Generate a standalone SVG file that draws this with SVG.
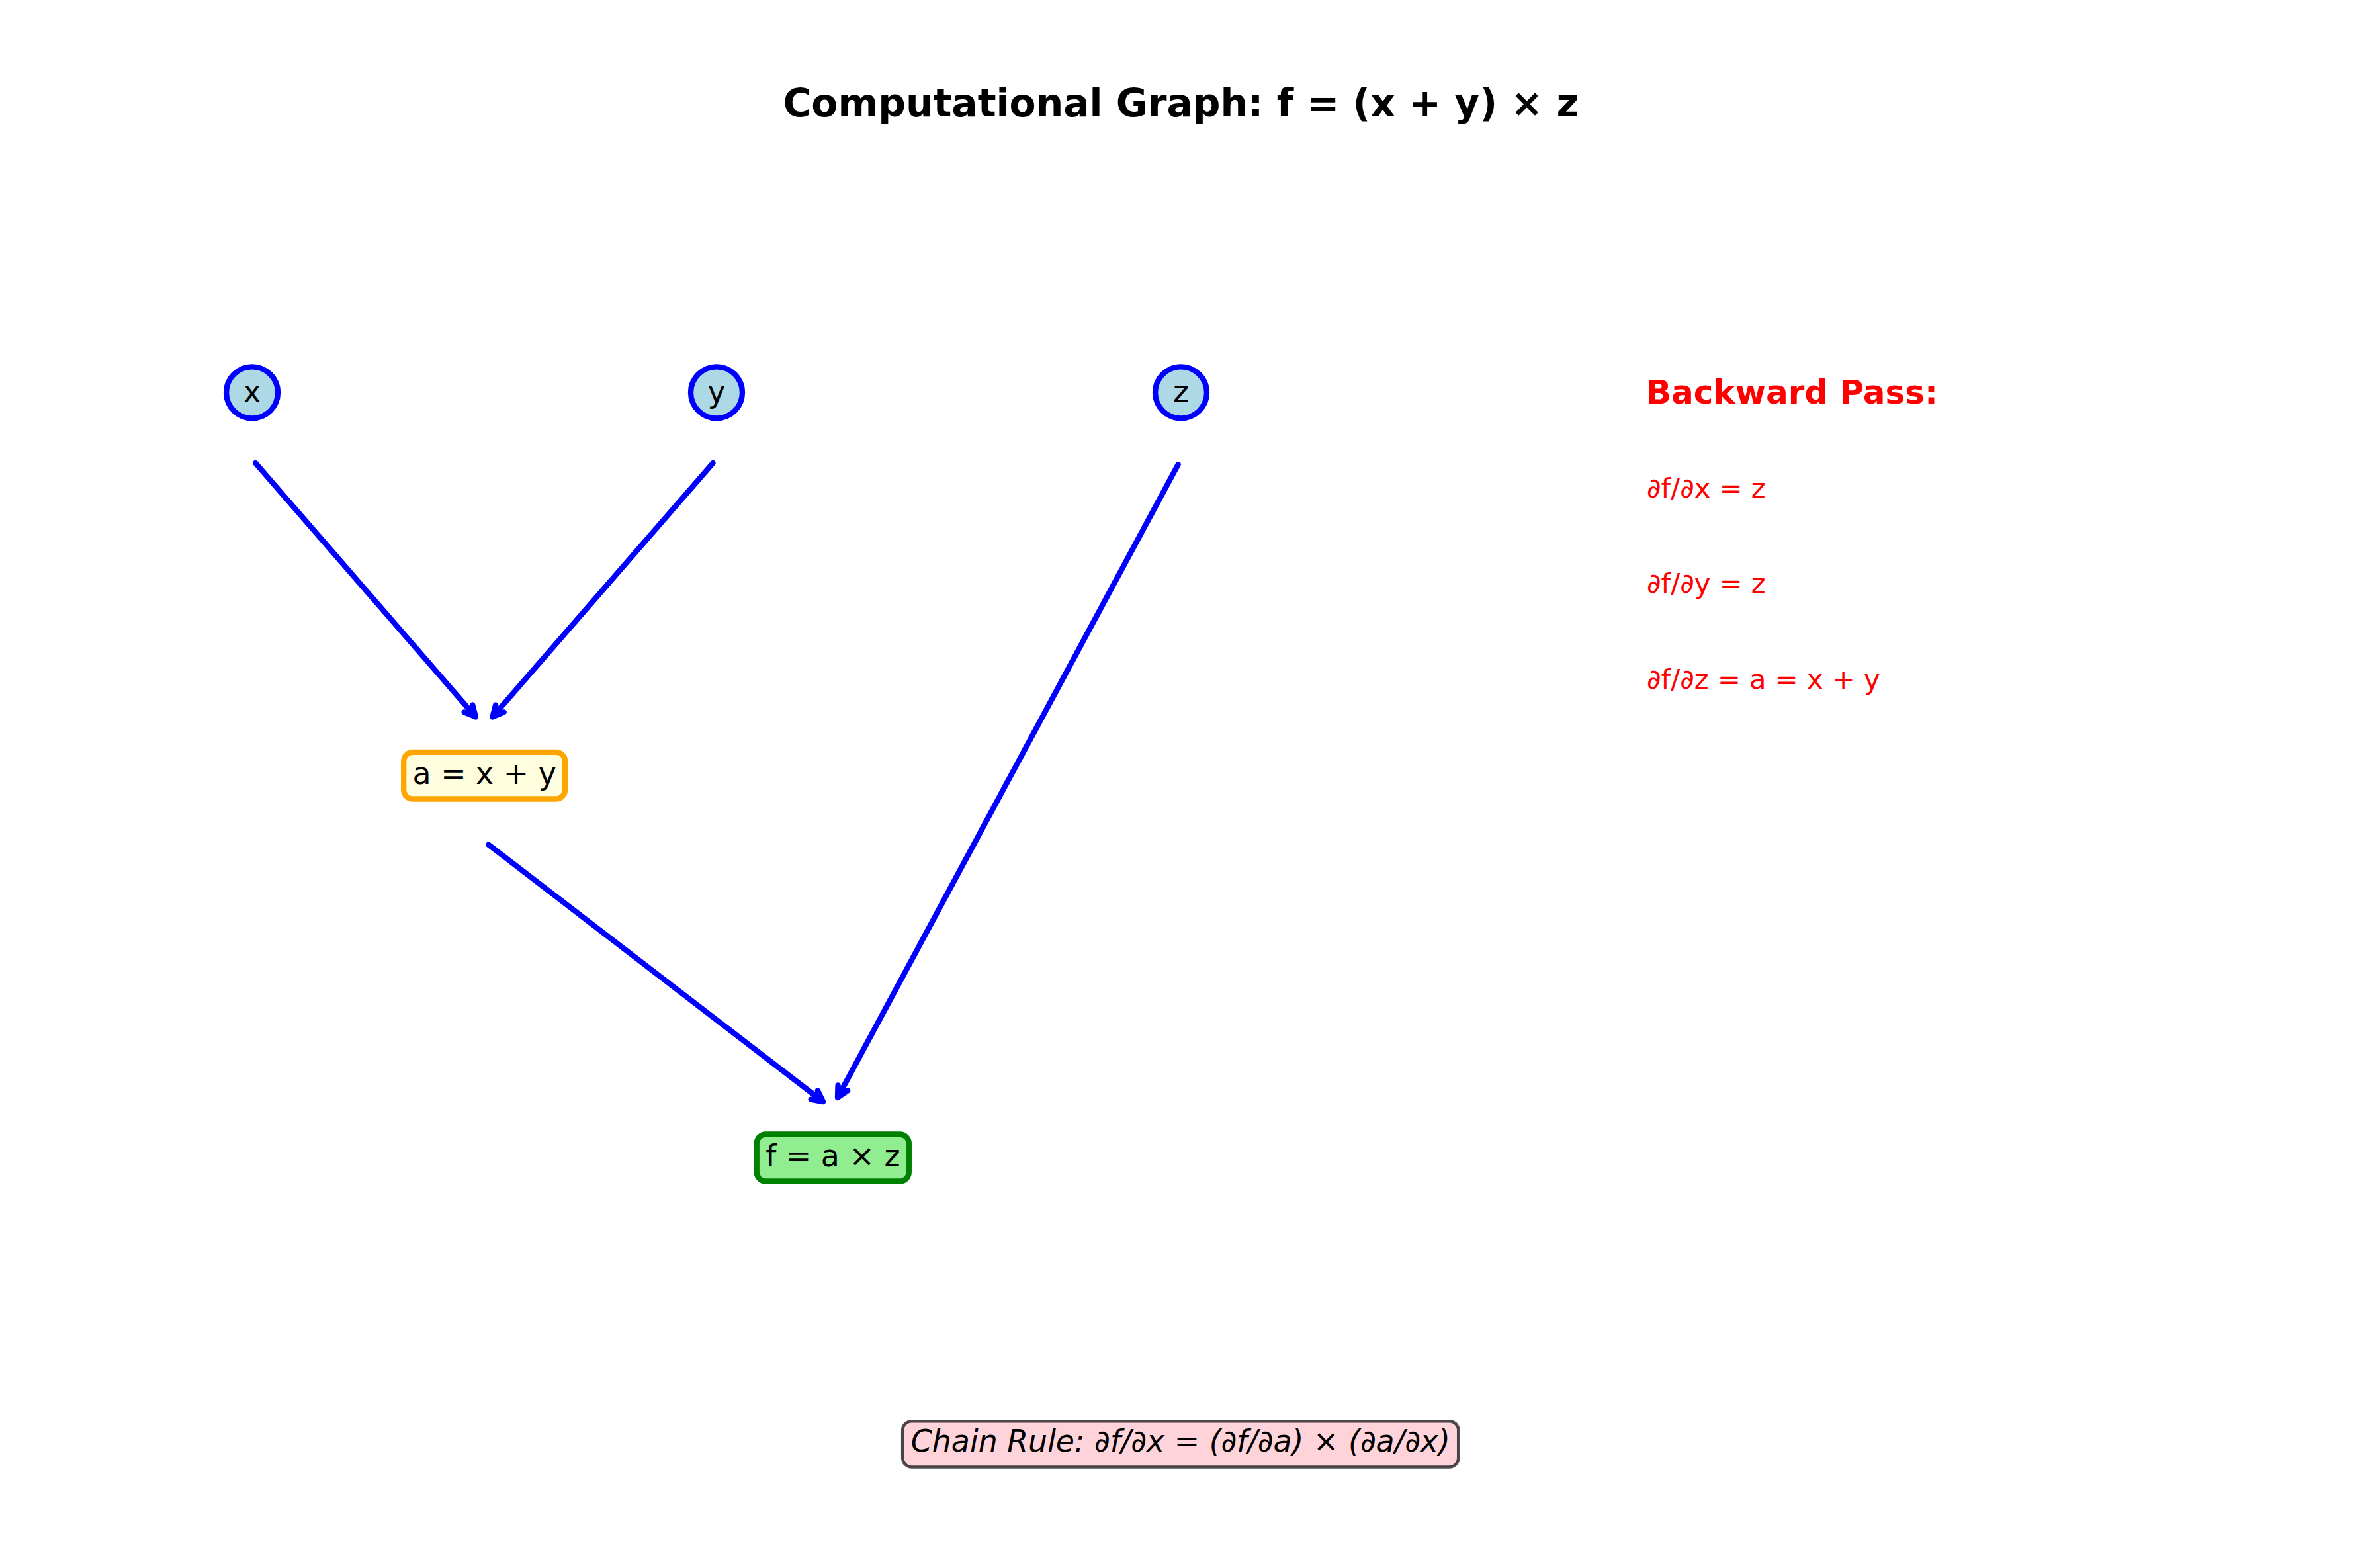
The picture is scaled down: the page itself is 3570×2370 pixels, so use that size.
<svg xmlns="http://www.w3.org/2000/svg" width="3570" height="2370" viewBox="0 0 3570 2370">
<defs>
<style>
text{font-family:"DejaVu Sans","Noto Sans",sans-serif;fill:#000}
.title{font-size:58.33px;font-weight:bold;text-anchor:middle}
.lbl{font-size:45.83px;text-anchor:middle}
.circ{fill:#ADD8E6;stroke:#0000FF;stroke-width:8.33}
.edge{fill:none;stroke:#0000FF;stroke-width:8.33;stroke-linecap:round;stroke-linejoin:round}
.bp{font-size:50px;font-weight:bold;fill:#FF0000}
.der{font-size:41.67px;fill:#FF0000}
.chain{font-size:45.83px;font-style:italic;text-anchor:middle}
</style>
</defs>
<rect width="3570" height="2370" fill="#FFFFFF"/>
<text class="title" x="1785" y="176">Computational Graph: f = (x + y) × z</text>
<g id="connectors">
<path id="e-x-a" class="edge" d="M386.2,700 L718.9,1083.5 M701.67,1076.34 L718.9,1083.5 L714.25,1065.42"/>
<path id="e-y-a" class="edge" d="M1077.6,700 L744.45,1083.5 M761.7,1076.37 L744.45,1083.5 L749.12,1065.43"/>
<path id="e-z-f" class="edge" d="M1780.7,702 L1266,1659 M1281.25,1648.24 L1266,1659 L1266.57,1640.34"/>
<path id="e-a-f" class="edge" d="M738.3,1276.6 L1243.97,1665.14 M1225.65,1661.57 L1243.97,1665.14 L1235.81,1648.35"/>
</g>
<g id="node-x">
<circle class="circ" cx="381" cy="593.3" r="39"/>
<text class="lbl" x="381" y="608">x</text>
</g>
<g id="node-y">
<circle class="circ" cx="1083" cy="593.3" r="39"/>
<text class="lbl" x="1083" y="608">y</text>
</g>
<g id="node-z">
<circle class="circ" cx="1785" cy="593.3" r="39"/>
<text class="lbl" x="1785" y="608">z</text>
</g>
<g id="node-a">
<rect x="610.2" y="1136.9" width="243.9" height="70.6" rx="13.75" fill="#FFFFE0" stroke="#FFA500" stroke-width="8.33"/>
<text class="lbl" x="732.2" y="1185">a = x + y</text>
</g>
<g id="node-f">
<rect x="1143.7" y="1714.5" width="230.1" height="71" rx="13.75" fill="#90EE90" stroke="#008000" stroke-width="8.33"/>
<text class="lbl" x="1258.8" y="1763">f = a × z</text>
</g>
<g id="backward-pass">
<text class="bp" x="2488" y="609.5">Backward Pass:</text>
<text class="der" x="2489" y="752">∂f/∂x = z</text>
<text class="der" x="2489" y="896">∂f/∂y = z</text>
<text class="der" x="2489" y="1041">∂f/∂z = a = x + y</text>
</g>
<g id="chain-rule">
<rect x="1364.2" y="2148.2" width="840.1" height="69.3" rx="13.75" fill="#FFC0CB" fill-opacity="0.7" stroke="#000000" stroke-opacity="0.7" stroke-width="4.6"/>
<text class="chain" x="1784.3" y="2193.5">Chain Rule: ∂f/∂x = (∂f/∂a) × (∂a/∂x)</text>
</g>
</svg>
